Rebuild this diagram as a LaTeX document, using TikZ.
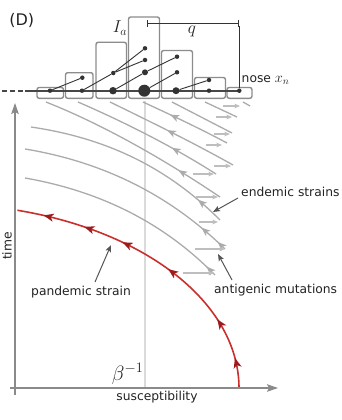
\documentclass[tikz,border=0pt]{standalone}
\usepackage{fontspec}
\setmainfont{DejaVu Sans}
\usetikzlibrary{arrows.meta,decorations.markings}
\definecolor{axisgrey}{HTML}{8A8A8A}
\definecolor{strain}{HTML}{ABABAB}
\definecolor{mutgrey}{HTML}{BEBEBE}
\definecolor{pandred}{HTML}{C8302D}
\definecolor{pandhead}{HTML}{9E1B1B}
\definecolor{betaline}{HTML}{DADADA}
\definecolor{boxgrey}{HTML}{8C8C8C}
\definecolor{dotdark}{HTML}{333333}
\definecolor{pointergrey}{HTML}{555555}
\definecolor{txt}{HTML}{222222}
\begin{document}
\begin{tikzpicture}[x=1pt,y=-1pt,
  lbl/.style={font=\fontsize{12.3}{14}\selectfont, inner sep=0pt, text=txt},
  mlbl/.style={font=\fontsize{18}{21}\selectfont, inner sep=0pt, text=txt},
  axisline/.style={draw=axisgrey, line width=1.4pt, -{Stealth[length=11pt,width=7.5pt,inset=2pt]}},
  strainline/.style={draw=strain, line width=1.3pt},
  mut/.style={draw=mutgrey, line width=1.1pt, -{Stealth[length=5.5pt,width=4.5pt,inset=1pt]}},
  pointer/.style={draw=pointergrey, line width=1pt, -{Stealth[length=7pt,width=5.5pt,inset=1.5pt]}},
  hbox/.style={draw=boxgrey, line width=1.4pt, rounded corners=2.2pt, fill=white},
  lin/.style={draw=dotdark, line width=0.9pt},
  trunk/.style={draw=dotdark!90, line width=2.2pt},
  lindot/.style={circle, fill=dotdark, inner sep=0pt, minimum size=#1},
  redcurve/.style={draw=pandred, line width=1.6pt},
  strainarrow/.style={postaction={decorate,decoration={markings,mark=at position #1 with {\arrowreversed{Stealth[length=9pt,width=7pt,inset=2.4pt,color=strain]}}}}},
  redarrow/.style={postaction={decorate,decoration={markings,mark=at position #1 with {\arrow{Stealth[length=10pt,width=8pt,inset=2.6pt,color=pandhead]}}}}}
]
\useasboundingbox (0,0) rectangle (341,420);

% beta^{-1} reference line
\coordinate (betaTop) at (145,101);
\coordinate (betaBot) at (145,388);
\draw[draw=betaline, line width=1.1pt] (betaTop) -- (betaBot);

% endemic strain trajectories
\draw[strainline] (243,102) -- (250,106);
\draw[strainline] (205,102) -- (237,117);
\draw[strainline] (172,102) -- (232,133);
\draw[strainline, strainarrow=0.32] (143,102) .. controls (171,115) and (199,128) .. (227,143);
\draw[strainline, strainarrow=0.46] (110,102) .. controls (151,122) and (192,142) .. (233,165);
\draw[strainline, strainarrow=0.67] (78,102) .. controls (124,122) and (172,146) .. (216,174);
\draw[strainline, strainarrow=0.75] (46,102) .. controls (104,125) and (165,160) .. (220,197);
\draw[strainline, strainarrow=0.86] (31,127) .. controls (113,139) and (172,172) .. (220,220);
\draw[strainline, strainarrow=0.86, strainarrow=0.955] (25,149) .. controls (110,163) and (175,200) .. (225,249);
\draw[strainline, strainarrow=0.945] (25,178) .. controls (105,192) and (167,226) .. (215,275);

% antigenic mutations
\draw[mut] (223,106) -- (240,106);
\draw[mut] (216,117) -- (232,117);
\draw[mut] (214,134) -- (230,134);
\draw[mut] (206,145) -- (222,145);
\draw[mut] (214,166) -- (231,166);
\draw[mut] (193,174) -- (214,174);
\draw[mut] (196,197) -- (218,197);
\draw[mut] (199,222) -- (218,222);
\draw[mut] (195,249) -- (225,249);
\draw[mut] (183,273) -- (214,273);

% pandemic strain
\draw[redcurve, redarrow=0.099, redarrow=0.238, redarrow=0.468, redarrow=0.641, redarrow=0.775, redarrow=0.913]
  plot[domain=0:75, samples=90, variable=\t] ({-60+299*cos(\t)},{388-184*sin(\t)});

% axes
\coordinate (vBot) at (15,395);
\coordinate (vTop) at (15,103);
\coordinate (hLeft) at (10,388);
\coordinate (hRight) at (278,388);
\draw[axisline] (vBot) -- (vTop);
\draw[axisline] (hLeft) -- (hRight);

% histogram
\draw[hbox] (37,87.5) rectangle (63.5,98.3);
\draw[hbox] (65.5,72.7) rectangle (93,98.3);
\draw[hbox] (96,42.3) rectangle (126.5,98.3);
\draw[hbox] (128.5,17) rectangle (159.5,98.3);
\draw[hbox] (161.5,50.5) rectangle (192.5,98.3);
\draw[hbox] (194.5,77.5) rectangle (225.5,98.3);
\draw[hbox] (227,87.5) rectangle (252,98.3);

% trunk
\coordinate (dashStart) at (2,90.7);
\coordinate (trunkStart) at (25,90.7);
\coordinate (trunkEnd) at (239.3,90.7);
\draw[trunk, dash pattern=on 5pt off 3pt] (dashStart) -- (trunkStart);
\draw[trunk] (trunkStart) -- (trunkEnd);

% dots
\node[lindot=4.5pt] (b1) at (50,90.7) {};
\node[lindot=4.5pt] (b2) at (82,90.7) {};
\node[lindot=7.5pt] (b3) at (113,90.7) {};
\node[lindot=12pt] (b4) at (144.3,90.7) {};
\node[lindot=7pt] (b5) at (176,90.7) {};
\node[lindot=4.5pt] (b6) at (209,90.7) {};
\node[lindot=4.5pt] (nose) at (239.3,90.7) {};
\node[lindot=4.5pt] (u1) at (82.3,77.7) {};
\node[lindot=4.5pt] (u2) at (113.3,73) {};
\node[lindot=4.5pt] (u3) at (145,48.3) {};
\node[lindot=4.5pt] (u4) at (145,60) {};
\node[lindot=6pt] (u5) at (145,72.3) {};
\node[lindot=4.5pt] (u6) at (177,56.7) {};
\node[lindot=4.5pt] (u7) at (177,72.3) {};
\node[lindot=4.5pt] (u8) at (209,80) {};
\draw[lin] (b1) -- (u1);
\draw[lin] (b2) -- (u2);
\draw[lin] (u2) -- (u3);
\draw[lin] (u2) -- (u4);
\draw[lin] (b3) -- (u5);
\draw[lin] (u5) -- (u6);
\draw[lin] (b4) -- (u7);
\draw[lin] (b5) -- (u8);

% q bar
\coordinate (qLeft) at (146.7,23.3);
\coordinate (qRight) at (239.3,23.3);
\draw[draw=dotdark, line width=1pt, {Bar[width=7pt]}-{Bar[width=7pt]}] (qLeft) -- (qRight);
\draw[draw=dotdark, line width=0.9pt] (qRight) ++(0,3) -- (nose);

% labels
\node[font=\fontsize{16}{19}\selectfont, inner sep=0pt, text=txt] (panel) at (21.7,20.5) {(D)};
\node[mlbl] (Ia) at (120,28) {$I_a$};
\node[mlbl] (qlbl) at (192,31) {$q$};
\node[lbl, anchor=west] (noselbl) at (241.5,80) {nose \fontsize{14}{16}\selectfont$x_n$};
\node[lbl, anchor=west] (endlbl) at (241,192) {endemic strains};
\node[lbl, anchor=west] (antlbl) at (214,290) {antigenic mutations};
\node[lbl, anchor=west] (panlbl) at (31,292) {pandemic strain};
\node[lbl] (xlbl) at (157,397) {susceptibility};
\node[lbl, rotate=90] (ylbl) at (7,246) {time};
\node[font=\fontsize{20}{23}\selectfont, inner sep=0pt, text=txt, anchor=east] (betalbl) at (143.5,374) {$\beta^{-1}$};

% pointers
\coordinate (endTail) at (238,198);
\coordinate (endTip) at (213,212);
\coordinate (antTail) at (232,280);
\coordinate (antTip) at (218,254);
\coordinate (panTail) at (95,282);
\coordinate (panTip) at (111,245);
\draw[pointer] (endTail) -- (endTip);
\draw[pointer] (antTail) -- (antTip);
\draw[pointer] (panTail) -- (panTip);
\end{tikzpicture}
\end{document}
